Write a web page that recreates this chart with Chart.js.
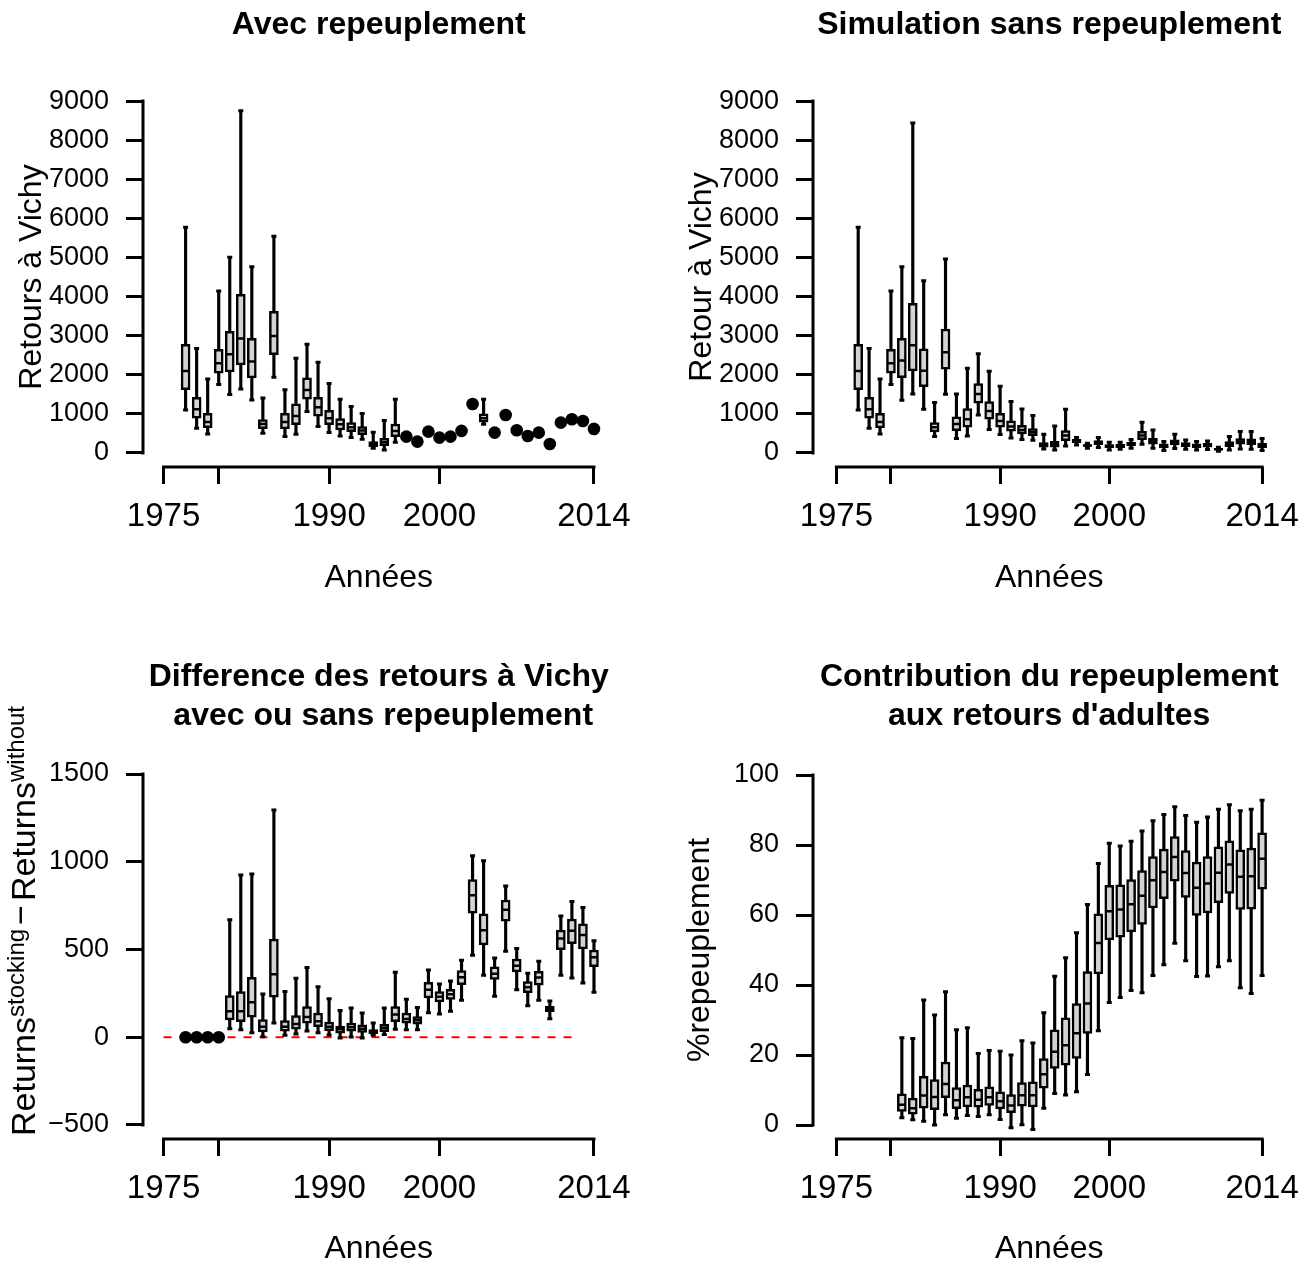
<!DOCTYPE html>
<html>
<head>
<meta charset="utf-8">
<script src="https://cdn.jsdelivr.net/npm/chart.js@4.4.1/dist/chart.umd.min.js"></script>
<style>
  html, body { margin: 0; padding: 0; background: #fff; }
  #wrap { position: relative; width: 1313px; height: 1265px; }
  #wrap canvas { position: absolute; left: 0; top: 0; }
</style>
</head>
<body>
<div id="wrap">
  <canvas id="c1" width="1313" height="1265"></canvas>
  <canvas id="c2" width="1313" height="1265"></canvas>
  <canvas id="c3" width="1313" height="1265"></canvas>
  <canvas id="c4" width="1313" height="1265"></canvas>
</div>
<script>
// ---- axis ticks ----
const xTicks = [1975, 1980, 1990, 2000, 2014];
const xTickLabels = ['1975', '', '1990', '2000', '2014'];
const yTicksRetours = [0, 1000, 2000, 3000, 4000, 5000, 6000, 7000, 8000, 9000];
const yTicksDiff = [-500, 0, 500, 1000, 1500];
const yTicksPct = [0, 20, 40, 60, 80, 100];

// ---- panel 1: avec repeuplement (boxes + observed points) ----
const yearsA = [1977,1978,1979,1980,1981,1982,1983,1984,1985,1986,1987,1988,1989,1990,1991,1992,1993,1994,1995,1996,2004];
const loA  = [1100,631,486,1748,1492,1637,1355,503,1936,418,477,1057,674,520,434,392,349,119,77,273,733];
const q1A  = [1619,887,648,2037,2071,2251,1918,622,2514,614,725,1373,938,725,588,546,469,162,188,418,784];
const medA = [2097,1117,793,2293,2523,2924,2336,742,2992,793,946,1611,1168,886,733,656,571,230,273,563,886];
const q3A  = [2780,1424,1015,2651,3111,4058,2933,852,3624,1015,1253,1918,1424,1091,878,776,674,290,375,741,997];
const hiA  = [5772,2668,1893,4143,5004,8755,4765,1407,5542,1619,2421,2780,2320,1773,1373,1185,1006,528,827,1373,1373];
const dotYearsA = [1997,1998,1999,2000,2001,2002,2003,2005,2006,2007,2008,2009,2010,2011,2012,2013,2014];
const dotA = [418,290,546,392,418,563,1253,520,972,580,434,520,230,776,861,818,614];

// ---- panel 2: simulation sans repeuplement ----
const yearsB = [1977,1978,1979,1980,1981,1982,1983,1984,1985,1986,1987,1988,1989,1990,1991,1992,1993,1994,1995,1996,
                1997,1998,1999,2000,2001,2002,2003,2004,2005,2006,2007,2008,2009,2010,2011,2012,2013,2014];
const loB  = [1100,631,486,1748,1347,1509,1117,418,1500,366,434,972,597,469,383,341,324,102,77,179,205,119,136,77,94,119,222,119,60,111,94,77,85,40,77,102,94,60];
const q1B  = [1619,887,640,2037,1927,2097,1696,537,2140,571,656,1270,861,656,554,486,443,145,145,315,264,165,213,136,136,179,341,222,128,205,162,136,145,70,162,222,213,136];
const medB = [2097,1117,793,2293,2361,2754,2105,656,2575,742,861,1509,1074,818,674,588,528,196,222,443,315,187,264,179,179,230,443,298,179,273,213,179,196,94,230,290,281,196];
const q3B  = [2780,1424,1015,2651,2933,3828,2660,776,3171,921,1134,1773,1313,1015,818,707,622,264,298,571,350,215,315,213,222,273,554,375,230,332,264,230,247,120,290,366,358,247];
const hiB  = [5772,2668,1893,4143,4765,8440,4407,1287,4962,1509,2166,2540,2089,1705,1313,1125,955,477,690,1117,392,248,392,273,273,341,784,588,290,477,332,290,307,145,418,546,546,366];

// ---- panel 3: difference avec / sans ----
const yearsC = [1981,1982,1983,1984,1985,1986,1987,1988,1989,1990,1991,1992,1993,1994,1995,1996,1997,
                1998,1999,2000,2001,2002,2003,2004,2005,2006,2007,2008,2009,2010,2011,2012,2013,2014];
const loC  = [49,42,26,3,81,11,19,36,26,13,-4,2,-4,11,15,46,42,42,140,133,148,211,467,353,234,490,271,180,211,106,353,338,309,256];
const q1C  = [99,89,114,30,228,34,46,80,60,38,23,34,28,19,32,89,80,74,224,201,216,300,707,526,330,661,372,254,296,146,499,533,503,402];
const medC = [148,148,199,60,359,60,76,116,91,60,46,57,49,34,53,129,104,97,270,231,245,342,809,610,362,727,408,285,340,163,562,607,583,456];
const q3C  = [237,260,342,100,560,95,123,174,137,87,64,80,70,43,74,174,137,118,313,260,273,380,898,704,401,781,446,317,376,178,611,674,647,496];
const hiC  = [670,925,930,247,1295,260,336,397,288,220,152,167,138,81,167,370,216,169,383,304,321,439,1035,1006,452,862,505,365,433,207,691,773,739,550];
const dotYearsC = [1977,1978,1979,1980];
const dotC = [0,0,0,0];
const refYears = [1975, 2012];
const refVals = [0, 0];

// ---- panel 4: contribution (%) ----
const yearsD = [1981,1982,1983,1984,1985,1986,1987,1988,1989,1990,1991,1992,1993,1994,1995,1996,1997,
                1998,1999,2000,2001,2002,2003,2004,2005,2006,2007,2008,2009,2010,2011,2012,2013,2014];
const loD  = [2.1,1.5,1.1,0,2.9,1.9,2.7,2.4,2.9,1.6,-0.8,0.1,-1.3,4.8,9.0,8.6,9.5,14.4,26.9,35.0,36.4,38.4,37.8,42.7,45.8,51.9,46.9,42.4,42.6,45.2,46.9,39.2,37.6,42.7];
const q1D  = [3.9,3.1,4.8,4.4,7.8,4.7,5.2,5.1,5.6,4.6,3.5,5.4,5.2,10.5,16.2,17.1,19.0,26.2,43.2,52.9,53.7,55.2,57.3,62.0,64.7,69.7,65.0,59.9,60.6,63.5,66.2,61.6,61.7,67.4];
const medD = [5.8,4.8,8.4,8.0,11.7,7.1,7.9,7.2,7.9,6.8,5.6,8.5,8.5,14.5,20.9,22.8,26.2,34.7,52.0,61.1,61.6,63.1,65.5,69.9,72.3,76.6,72.0,67.8,69.0,72.1,74.4,70.9,71.1,76.1];
const q3D  = [8.9,7.7,13.9,13.0,18.0,10.7,11.4,10.2,10.9,9.5,8.7,12.1,12.3,19.0,27.2,30.6,34.7,43.8,60.3,68.5,68.6,70.1,72.7,76.7,78.8,82.4,78.4,75.1,76.7,79.5,81.2,78.6,79.1,83.5];
const hiD  = [24.9,24.7,35.7,31.4,38.1,27.2,27.8,20.4,21.3,21.1,20.0,24.1,23.4,32.1,42.5,47.8,54.9,63.0,74.7,80.5,79.7,81.1,84.0,86.9,88.7,90.9,88.4,86.5,88.0,90.2,91.5,89.8,90.2,92.8];

const FONT = "'Liberation Sans', Arial, Helvetica, sans-serif";
const W = 1313, H = 1265;

function pts(xs, ys) {
    return xs.map(function (x, i) { return { x: x, y: ys[i] }; });
}

// R-style boxplot built from datasets: whisker bar, box bar, median + staples as line points
function boxSets(years, lo, q1, med, q3, hi) {
    return [
        { type: 'scatter', data: pts(years, med), pointStyle: 'line', pointRadius: 4,
          pointBorderColor: '#000', pointBorderWidth: 2.5, order: 1 },
        { type: 'scatter', data: pts(years, lo).concat(pts(years, hi)), pointStyle: 'line', pointRadius: 2.5,
          pointBorderColor: '#000', pointBorderWidth: 3, order: 1 },
        { type: 'bar', data: years.map(function (x, i) { return { x: x, y: [q1[i], q3[i]] }; }),
          grouped: false, barThickness: 9, maxBarThickness: 9, backgroundColor: '#d3d3d3',
          borderColor: '#000', borderWidth: 2.5, borderSkipped: false, order: 2 },
        { type: 'bar', data: years.map(function (x, i) { return { x: x, y: [lo[i], hi[i]] }; }),
          grouped: false, barThickness: 2.5, maxBarThickness: 2.5, backgroundColor: '#000',
          borderWidth: 0, order: 3 }
    ];
}

function dotSet(years, vals) {
    return { type: 'scatter', data: pts(years, vals), pointStyle: 'circle', pointRadius: 6.3,
             pointBackgroundColor: '#000', pointBorderWidth: 0, order: 0 };
}

// axis lines (first to last tick), main title and optional plotmath-like y label
const rDecor = {
    id: 'rDecor',
    afterDraw: function (chart, args, o) {
        const ctx = chart.ctx, area = chart.chartArea;
        const xs = chart.scales.x, ys = chart.scales.y;
        ctx.save();
        ctx.strokeStyle = '#000';
        ctx.lineWidth = 3;
        ctx.lineCap = 'square';
        ctx.beginPath();
        ctx.moveTo(xs.getPixelForValue(xs.ticks[0].value), area.bottom);
        ctx.lineTo(xs.getPixelForValue(xs.ticks[xs.ticks.length - 1].value), area.bottom);
        ctx.moveTo(area.left, ys.getPixelForValue(ys.ticks[0].value));
        ctx.lineTo(area.left, ys.getPixelForValue(ys.ticks[ys.ticks.length - 1].value));
        ctx.stroke();

        ctx.fillStyle = '#000';
        ctx.font = 'bold 32px ' + FONT;
        ctx.textAlign = 'center';
        ctx.textBaseline = 'middle';
        const cx = (area.left + area.right) / 2;
        o.title.forEach(function (t, i) { ctx.fillText(t, cx, o.titleY + i * o.titleGap); });

        if (o.richY) {
            const parts = o.richY.parts;
            let total = 0;
            parts.forEach(function (p) {
                ctx.font = p.size + 'px ' + FONT;
                p.w = ctx.measureText(p.text).width;
                total += p.w + (p.gap || 0);
            });
            ctx.translate(o.richY.x, o.richY.yc + total / 2);
            ctx.rotate(-Math.PI / 2);
            ctx.textAlign = 'left';
            ctx.textBaseline = 'alphabetic';
            let pos = 0;
            parts.forEach(function (p) {
                ctx.font = p.size + 'px ' + FONT;
                ctx.fillText(p.text, pos + (p.gap || 0) / 2, -(p.raise || 0));
                pos += p.w + (p.gap || 0);
            });
        }
        ctx.restore();
    }
};

function rNumber(v) {
    return v < 0 ? '\u2212' + Math.abs(v) : String(v);
}

function makePanel(id, p) {
    const yw = p.area.l - p.padL;
    new Chart(document.getElementById(id), {
        type: 'scatter',
        data: { datasets: p.datasets },
        plugins: [rDecor],
        options: {
            responsive: false,
            animation: false,
            events: [],
            layout: { padding: { left: p.padL, top: p.area.t, right: W - p.area.r, bottom: H - p.area.b - p.xh } },
            plugins: {
                legend: { display: false },
                tooltip: { enabled: false },
                rDecor: { title: p.title, titleY: p.titleY, titleGap: 39, richY: p.richY || null }
            },
            scales: {
                x: {
                    type: 'linear', min: p.xMin, max: p.xMax, offset: false,
                    afterBuildTicks: function (s) { s.ticks = xTicks.map(function (v) { return { value: v }; }); },
                    afterFit: function (s) { s.height = p.xh; },
                    grid: { display: true, drawOnChartArea: false, drawTicks: true, tickLength: 17, tickWidth: 3, tickColor: '#000', offset: false },
                    border: { display: false },
                    ticks: {
                        autoSkip: false, maxRotation: 0, padding: 13, color: '#000',
                        font: { family: FONT, size: 33 },
                        callback: function (v) { return xTickLabels[xTicks.indexOf(v)]; }
                    },
                    title: { display: true, text: 'Années', color: '#000', font: { family: FONT, size: 32, lineHeight: 1 }, padding: { top: 0, bottom: 0 } }
                },
                y: {
                    type: 'linear', min: p.yMin, max: p.yMax, beginAtZero: false,
                    afterBuildTicks: function (s) { s.ticks = p.yTicks.map(function (v) { return { value: v }; }); },
                    afterFit: function (s) { s.width = yw; },
                    grid: { display: true, drawOnChartArea: false, drawTicks: true, tickLength: 17, tickWidth: 3, tickColor: '#000' },
                    border: { display: false },
                    ticks: { autoSkip: false, padding: 17, color: '#000', font: { family: FONT, size: 27 }, callback: rNumber },
                    title: { display: !!p.yTitle, text: p.yTitle || '', color: '#000',
                             font: { family: FONT, size: 32, lineHeight: 1 }, padding: { top: p.yTitlePad, bottom: 0 } }
                }
            }
        }
    });
}

makePanel('c1', {
    area: { l: 143, r: 614.5, t: 87, b: 467 }, padL: 0, xh: 127,
    xMin: 1973.14, xMax: 2015.86, yMin: -360, yMax: 9360, yTicks: yTicksRetours,
    yTitle: 'Retours à Vichy', yTitlePad: 16,
    title: ['Avec repeuplement'], titleY: 25,
    datasets: [dotSet(dotYearsA, dotA)].concat(boxSets(yearsA, loA, q1A, medA, q3A, hiA))
});

makePanel('c2', {
    area: { l: 813, r: 1289, t: 87, b: 467 }, padL: 656, xh: 127,
    xMin: 1972.86, xMax: 2016.14, yMin: -360, yMax: 9360, yTicks: yTicksRetours,
    yTitle: 'Retour à Vichy', yTitlePad: 30,
    title: ['Simulation sans repeuplement'], titleY: 25,
    datasets: boxSets(yearsB, loB, q1B, medB, q3B, hiB)
});

makePanel('c3', {
    area: { l: 143, r: 614.5, t: 760, b: 1139 }, padL: 0, xh: 126,
    xMin: 1973.14, xMax: 2015.86, yMin: -580, yMax: 1580, yTicks: yTicksDiff,
    yTitle: null, yTitlePad: 0,
    title: ['Difference des retours à Vichy', ' avec ou sans repeuplement'], titleY: 677,
    richY: {
        x: 35, yc: 921,
        parts: [
            { text: 'Returns', size: 34 },
            { text: 'stocking', size: 24, raise: 11 },
            { text: '\u2212', size: 34, raise: 3, gap: 8 },
            { text: 'Returns', size: 34 },
            { text: 'without', size: 24, raise: 11 }
        ]
    },
    datasets: [
        dotSet(dotYearsC, dotC),
        { type: 'scatter', data: pts(refYears, refVals), showLine: true, pointRadius: 0,
          borderColor: '#ff0000', borderWidth: 2, borderDash: [8, 8], order: 4 }
    ].concat(boxSets(yearsC, loC, q1C, medC, q3C, hiC))
});

makePanel('c4', {
    area: { l: 813, r: 1289, t: 761, b: 1139 }, padL: 656, xh: 126,
    xMin: 1972.86, xMax: 2016.14, yMin: -4, yMax: 104, yTicks: yTicksPct,
    yTitle: '%repeuplement', yTitlePad: 28,
    title: ['Contribution du repeuplement', 'aux retours d\'adultes'], titleY: 677,
    datasets: boxSets(yearsD, loD, q1D, medD, q3D, hiD)
});
</script>
</body>
</html>
